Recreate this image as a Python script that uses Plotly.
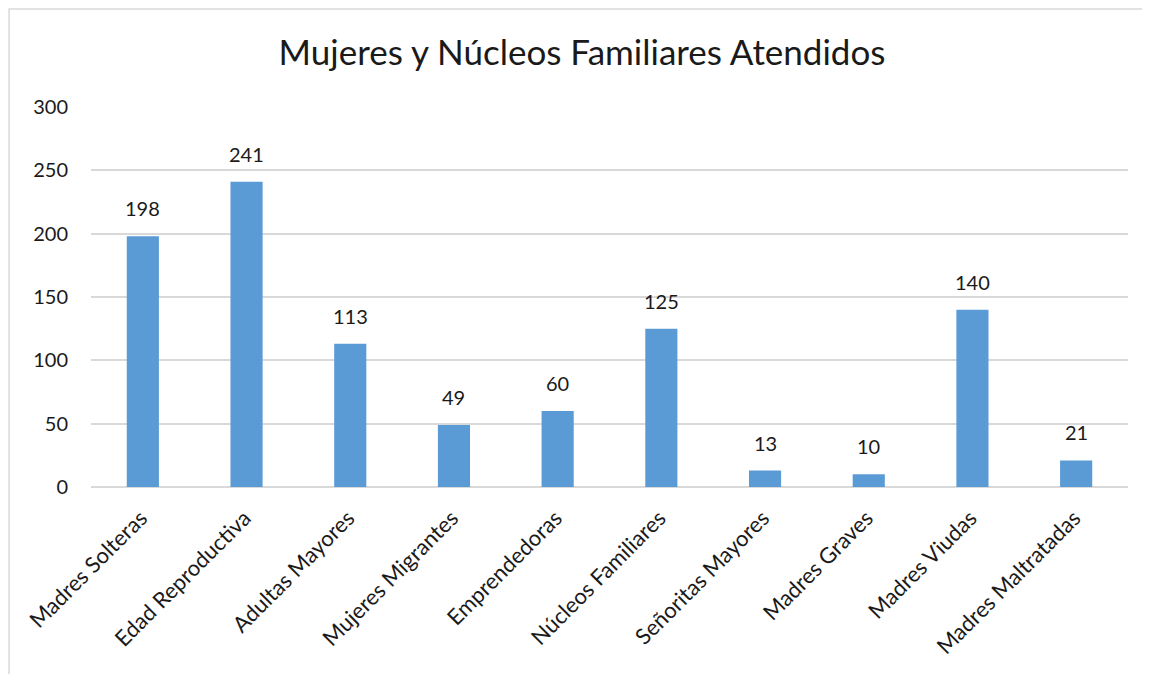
import plotly.graph_objects as go

# Datos del gráfico
categorias = ['Madres Solteras', 'Edad Reproductiva', 'Adultas Mayores', 'Mujeres Migrantes',
              'Emprendedoras', 'Núcleos Familiares', 'Señoritas Mayores', 'Madres Graves',
              'Madres Viudas', 'Madres Maltratadas']
atendidos = [198, 241, 113, 49, 60, 125, 13, 10, 140, 21]
y_ticks = [0, 50, 100, 150, 200, 250, 300]

fuente = 'Lato'
color_texto = '#1a1a1a'

fig = go.Figure()
fig.add_trace(go.Bar(
    x=categorias,
    y=atendidos,
    marker=dict(color='#5B9BD5', line=dict(width=0)),
    hoverinfo='x+y',
))

# etiquetas de datos encima de cada barra
for cat, val in zip(categorias, atendidos):
    fig.add_annotation(x=cat, y=val, text=str(val), showarrow=False,
                       yanchor='bottom', yshift=14,
                       font=dict(family=fuente, size=20, color=color_texto))

fig.update_layout(
    width=1150,
    height=674,
    paper_bgcolor='white',
    plot_bgcolor='white',
    bargap=0.69,
    showlegend=False,
    margin=dict(l=83, r=30, t=99, b=195),
    title=dict(
        text='Mujeres y Núcleos Familiares Atendidos',
        font=dict(family=fuente, size=35, color=color_texto),
        x=0.4735, xanchor='center', xref='paper',
        y=0.934, yanchor='middle',
    ),
    font=dict(family=fuente, color=color_texto),
)

fig.update_xaxes(
    tickangle=-45,
    tickfont=dict(family=fuente, size=22, color=color_texto),
    showgrid=False,
    showline=False,
    ticks='',
    ticklabelstandoff=13,
    ticklabelshift=-2,
)
fig.update_yaxes(
    range=[0, 300],
    tickvals=y_ticks,
    tickfont=dict(family=fuente, size=20, color=color_texto),
    showgrid=True,
    gridcolor='#D9D9D9',
    gridwidth=1.5,
    zeroline=True,
    zerolinecolor='#D9D9D9',
    zerolinewidth=1.5,
    showline=False,
    ticks='',
    ticklabelstandoff=22,
)

# marco del gráfico (se extiende fuera de la imagen por derecha y abajo)
fig.add_shape(type='rect', xref='paper', yref='paper',
              x0=-0.079, x1=1.2, y0=-0.8, y1=1.258,
              line=dict(color='#D9D9D9', width=1.5), layer='below')

fig.write_html('out.html')
